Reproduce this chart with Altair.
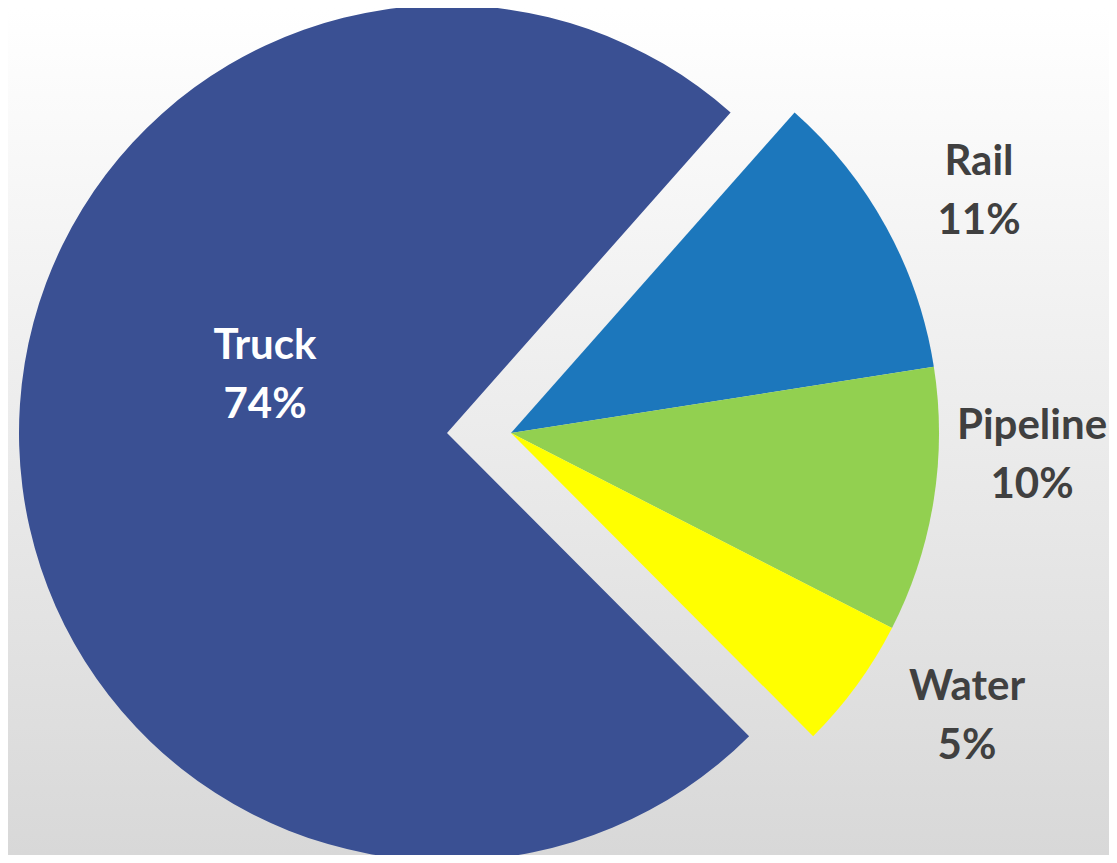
import altair as alt
import pandas as pd

# ---- data ----
categories = ["Truck", "Rail", "Pipeline", "Water"]
shares = [74, 11, 10, 5]
draw_order = [4, 1, 2, 3]  # clockwise from the Rail edge
colors = ["#3A5093", "#1C77BC", "#92D050", "#FFFF00"]

df = pd.DataFrame({
    "category": categories,
    "share": shares,
    "order": draw_order,
})
df["label"] = df["category"] + "\n" + df["share"].astype(str) + "%"

# ---- layout ----
W, H = 1101, 847
CX, CY = 503, 425          # centre of the pie
EXPLODE = 64               # Truck slice pulled out to the left
R = 428
START = 0.7243             # radians, clockwise from 12 o'clock
TWO_PI = 6.283185307179586

bg = alt.Chart(alt.Data(values=[{"a": 1}])).mark_rect(
    fill=alt.Gradient(
        gradient="linear",
        stops=[alt.GradientStop(color="#FFFFFF", offset=0),
               alt.GradientStop(color="#D8D8D8", offset=1)],
        x1=0, x2=0, y1=0, y2=1,
    ),
    strokeWidth=0,
).encode(x=alt.value(0), x2=alt.value(W), y=alt.value(0), y2=alt.value(H))

theta = alt.Theta("share:Q", stack=True,
                  scale=alt.Scale(range=[START, START + TWO_PI], zero=True, nice=False))
color = alt.Color("category:N",
                  scale=alt.Scale(domain=categories, range=colors), legend=None)
order = alt.Order("order:Q", sort="ascending")

base = alt.Chart(df)

rest = base.mark_arc(outerRadius=R, stroke=None).encode(
    theta=theta, color=color, order=order,
    fillOpacity=alt.condition(alt.datum.category == "Truck", alt.value(0), alt.value(1)),
    x=alt.value(CX), y=alt.value(CY),
)
truck = base.mark_arc(outerRadius=R, stroke=None).encode(
    theta=theta, color=color, order=order,
    fillOpacity=alt.condition(alt.datum.category == "Truck", alt.value(1), alt.value(0)),
    x=alt.value(CX - EXPLODE), y=alt.value(CY),
)

label_pos = {
    "Truck": (257, 338, "#FFFFFF"),
    "Rail": (971, 154, "#404040"),
    "Pipeline": (1024, 418, "#404040"),
    "Water": (959, 679, "#404040"),
}
labels = []
for cat, (lx, ly, col) in label_pos.items():
    labels.append(
        base.transform_filter(alt.datum.category == cat).mark_text(
            font="Lato", fontWeight="bold", fontSize=42, lineBreak="\n",
            lineHeight=59, align="center", baseline="middle", color=col,
        ).encode(text="label:N", x=alt.value(lx), y=alt.value(ly))
    )

chart = alt.layer(bg, rest, truck, *labels).properties(
    width=W, height=H, autosize="none", padding=0
).configure_view(stroke=None).resolve_scale(theta="shared")

chart.save("out.html", embed_options={"renderer": "svg", "actions": False})
